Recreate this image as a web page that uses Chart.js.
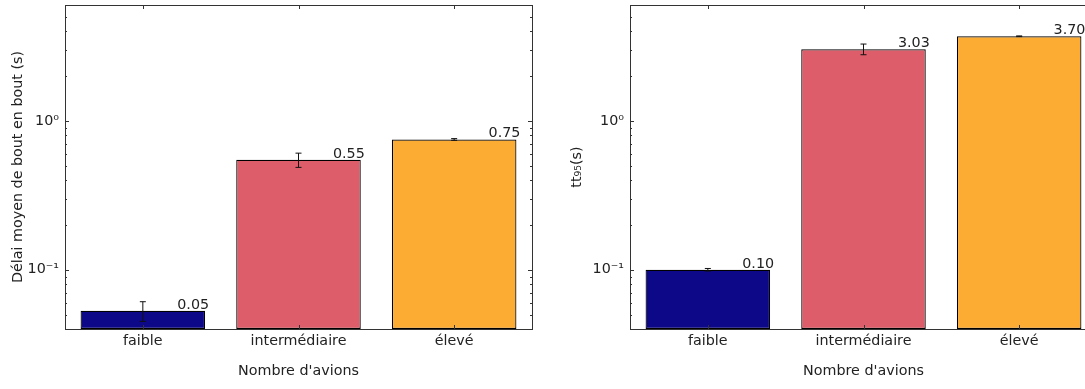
<!DOCTYPE html>
<html>
<head>
<meta charset="utf-8">
<script src="https://cdn.jsdelivr.net/npm/chart.js@4.4.1/dist/chart.umd.min.js"></script>
<style>
html, body { margin: 0; padding: 0; background: #fff; overflow: hidden; width: 1085px; height: 389px; }
#leftBox { position: absolute; left: 0; top: 0; width: 545px; height: 389px; }
#rightBox { position: absolute; left: 545px; top: 0; width: 560px; height: 389px; }
</style>
</head>
<body>
<div id="leftBox"><canvas id="delayChart" width="545" height="389"></canvas></div>
<div id="rightBox"><canvas id="tt95Chart" width="560" height="389"></canvas></div>
<script>
var categories = ['faible', 'intermédiaire', 'élevé'];
var delayValues = [0.053, 0.547, 0.75];
var delayErrors = [0.008, 0.06, 0.01];
var tt95Values = [0.10, 3.03, 3.70];
var tt95Errors = [0.002, 0.25, 0.02];
var yTickValues = [0.1, 1];
var yTickLabels = ['10⁻¹', '10⁰'];
var barColors = ['#0d0887', '#dd5e6a', '#fcab33'];

Chart.defaults.font.family = '"DejaVu Sans", sans-serif';
Chart.defaults.font.size = 14.3;
Chart.defaults.color = '#222';

// box, inward ticks, error bars and value labels
var extrasPlugin = {
    id: 'extras',
    afterDatasetsDraw: function(chart, args, opts) {
        var ctx = chart.ctx;
        var y = chart.scales.y;
        var bars = chart.getDatasetMeta(0).data;
        var values = chart.data.datasets[0].data;
        ctx.save();
        ctx.strokeStyle = '#111';
        ctx.lineWidth = 1;
        bars.forEach(function(bar, i) {
            var v = values[i];
            var e = opts.errors[i];
            var yTop = y.getPixelForValue(v + e);
            var yBot = y.getPixelForValue(v - e);
            ctx.beginPath();
            ctx.moveTo(bar.x, yTop);
            ctx.lineTo(bar.x, yBot);
            ctx.moveTo(bar.x - 3, yTop);
            ctx.lineTo(bar.x + 3, yTop);
            ctx.moveTo(bar.x - 3, yBot);
            ctx.lineTo(bar.x + 3, yBot);
            ctx.stroke();
        });
        ctx.fillStyle = '#222';
        ctx.font = '14.3px "DejaVu Sans"';
        ctx.textAlign = 'right';
        ctx.textBaseline = 'alphabetic';
        bars.forEach(function(bar, i) {
            ctx.fillText(values[i].toFixed(2), bar.x + bar.width / 2 + 4, bar.y - 2);
        });
        ctx.restore();
    },
    afterDraw: function(chart) {
        var ctx = chart.ctx;
        var a = chart.chartArea;
        var y = chart.scales.y;
        var x = chart.scales.x;
        ctx.save();
        ctx.strokeStyle = '#333';
        ctx.lineWidth = 1;
        ctx.strokeRect(a.left + 0.5, a.top + 0.5, a.right - a.left, a.bottom - a.top);
        ctx.beginPath();
        for (var d = -2; d <= 0; d++) {
            for (var k = 1; k <= 9; k++) {
                var v = k * Math.pow(10, d);
                if (v < y.min || v > y.max) continue;
                var len = (k === 1) ? 4 : 2;
                var py = Math.round(y.getPixelForValue(v)) + 0.5;
                ctx.moveTo(a.left, py);
                ctx.lineTo(a.left + len, py);
                ctx.moveTo(a.right, py);
                ctx.lineTo(a.right - len, py);
            }
        }
        categories.forEach(function(c, i) {
            var px = Math.round(x.getPixelForValue(i)) + 0.5;
            ctx.moveTo(px, a.bottom);
            ctx.lineTo(px, a.bottom - 4);
            ctx.moveTo(px, a.top);
            ctx.lineTo(px, a.top + 4);
        });
        ctx.stroke();
        ctx.restore();
    }
};

function makeChart(canvasId, values, errors, yTitle, yAxisWidth, yTitlePad, rightPad) {
    var ctx = document.getElementById(canvasId).getContext('2d');
    return new Chart(ctx, {
        type: 'bar',
        data: {
            labels: categories,
            datasets: [{
                data: values,
                backgroundColor: barColors,
                borderColor: '#000',
                borderWidth: 1.2,
                borderSkipped: false,
                categoryPercentage: 0.8,
                barPercentage: 1.0
            }]
        },
        options: {
            responsive: false,
            animation: false,
            layout: { padding: { top: 5, right: rightPad, bottom: 0, left: 0 } },
            plugins: {
                legend: { display: false },
                tooltip: { enabled: false },
                extras: { errors: errors }
            },
            scales: {
                x: {
                    grid: { display: false, drawTicks: false },
                    border: { display: false },
                    ticks: { padding: 4, maxRotation: 0 },
                    title: { display: true, text: "Nombre d'avions", padding: { top: 0, bottom: 9 } },
                    afterFit: function(s) { s.height = 60; s.paddingLeft = 0; s.paddingRight = 0; }
                },
                y: {
                    type: 'logarithmic',
                    min: 0.04,
                    max: 6,
                    bounds: 'data',
                    grid: { display: false, drawTicks: false },
                    border: { display: false },
                    ticks: {
                        padding: 6,
                        callback: function(value) { return yTickLabels[yTickValues.indexOf(value)]; }
                    },
                    afterBuildTicks: function(s) { s.ticks = yTickValues.map(function(v) { return { value: v }; }); },
                    title: { display: true, text: yTitle, padding: { top: yTitlePad, bottom: 0 } },
                    afterFit: function(s) { s.width = yAxisWidth; s.paddingTop = 0; s.paddingBottom = 0; }
                }
            }
        },
        plugins: [extrasPlugin]
    });
}

makeChart('delayChart', delayValues, delayErrors, 'Délai moyen de bout en bout (s)', 65, 10, 13);
makeChart('tt95Chart', tt95Values, tt95Errors, 'tt₉₅(s)', 85, 24, 8);
</script>
</body>
</html>
